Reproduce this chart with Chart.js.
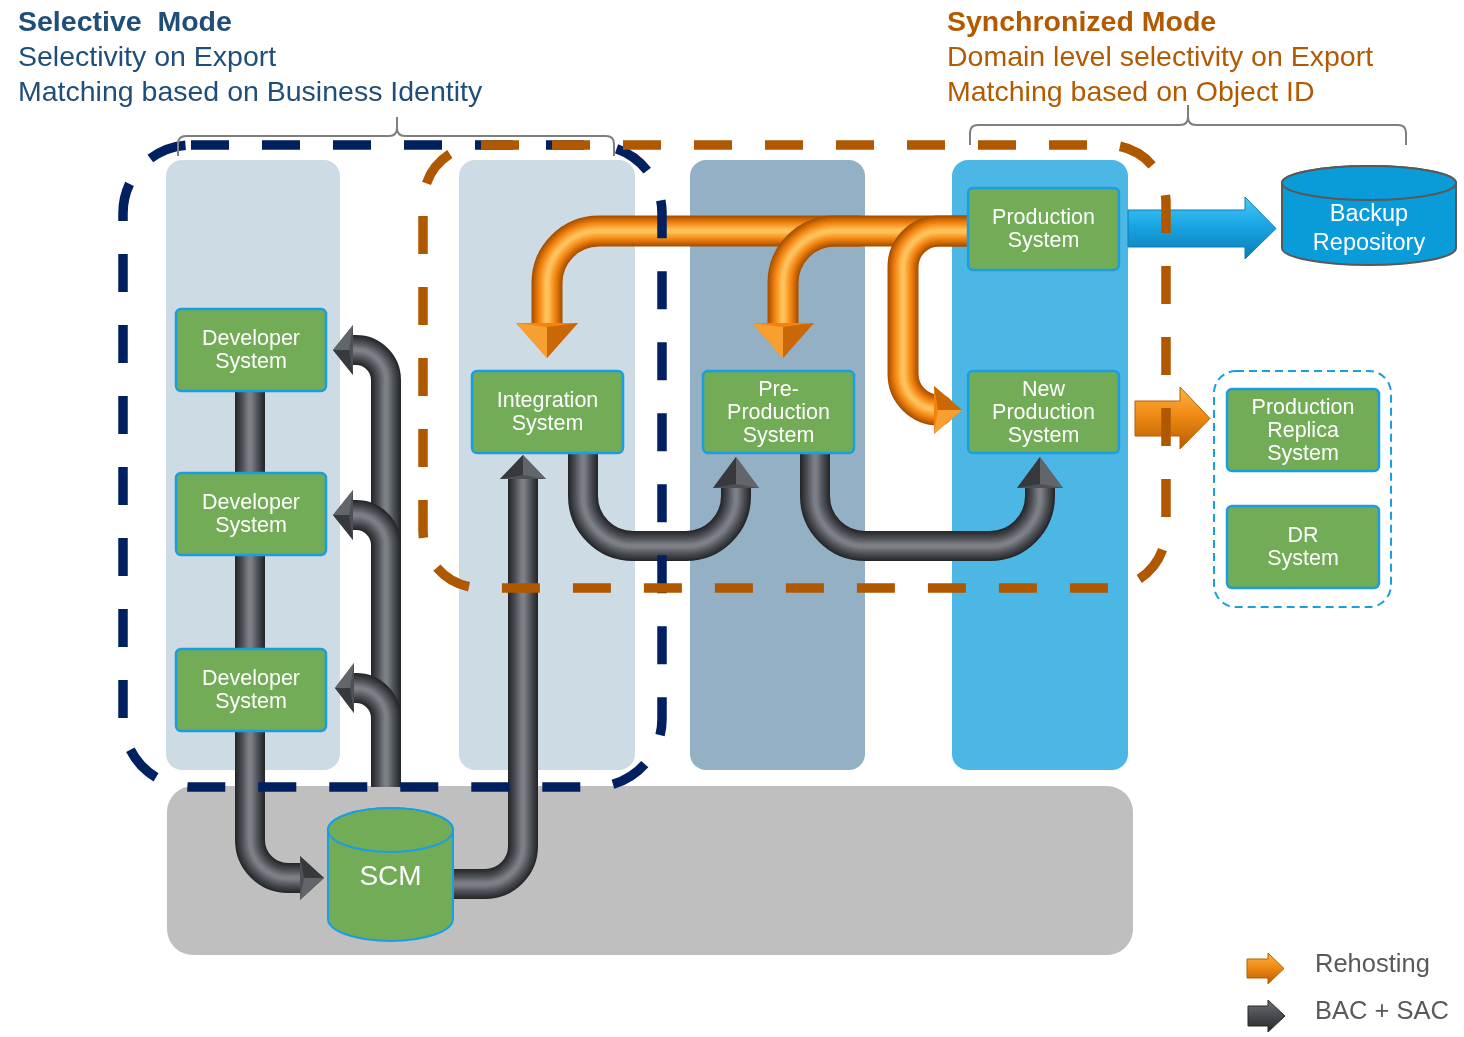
<!DOCTYPE html>
<html><head><meta charset="utf-8">
<script src="https://cdn.jsdelivr.net/npm/chart.js@4"></script>
<style>html,body{margin:0;padding:0;background:#fff}#wrap{width:1464px;height:1037px}</style>
</head><body><div id="wrap"><canvas id="c" width="1464" height="1037"></canvas></div>
<script>
// ---------- DATA (text content) ----------
const titleSelective = ["Selective  Mode", "Selectivity on Export", "Matching based on Business Identity"];
const titleSynchronized = ["Synchronized Mode", "Domain level selectivity on Export", "Matching based on Object ID"];
const nodeLabels = [
  ["Developer", "System"], ["Developer", "System"], ["Developer", "System"],
  ["Integration", "System"], ["Pre-", "Production", "System"],
  ["Production", "System"], ["New", "Production", "System"],
  ["Production", "Replica", "System"], ["DR", "System"]
];
const cylinderLabels = [["SCM"], ["Backup", "Repository"]];
const legendLabels = ["Rehosting", "BAC + SAC"];

// ---------- LAYOUT (axis units; x: 0..1464, y: 0..1037 downward) ----------
const columnRects = [[166,160,174,610],[459,160,176,610],[690,160,175,610],[952,160,176,610]];
const columnFills = ["#cddbe4","#cddbe4","#94b0c4","#4cb7e5"];
const bandRect = [167,786,966,169];
const nodeRects = [
  [176,309,150,82],[176,473,150,82],[176,649,150,82],
  [472,371,151,82],[703,371,151,82],
  [968,188,151,82],[968,371,151,82],
  [1227,389,152,82],[1227,506,152,82]
];
const cylinders = [[328,830,125,89,22],[1282,183,174,65,17]]; // x, topCy, w, bodyH, ry
const grayPipes = [
  {pts:[[250,391],[250,878],[300,878]], r:38, tip:324, hw:22},
  {pts:[[386,787],[386,350],[353,350]], r:30, tip:333, hw:25},
  {pts:[[386,570],[386,515],[353,515]], r:30, tip:333, hw:25},
  {pts:[[386,745],[386,688],[354,688]], r:30, tip:335, hw:25},
  {pts:[[452,884],[523,884],[523,479]], r:38, tip:455, hw:23},
  {pts:[[583,452],[583,546],[736,546],[736,488]], r:50, tip:457, hw:23},
  {pts:[[815,452],[815,546],[1040,546],[1040,488]], r:50, tip:457, hw:23}
];
const orangePipes = [
  {pts:[[968,231],[547,231],[547,323]], r:52, tip:358, hw:31},
  {pts:[[860,231],[783,231],[783,323]], r:52, tip:358, hw:31},
  {pts:[[968,231],[903,231],[903,410],[934,410]], r:36, tip:962, hw:24}
];
const pipeWidth = [30, 31];
const dashedRegions = [
  {rect:[123,145,539,642], r:68, color:"#002060"},
  {rect:[423,145,743,443], r:58, color:"#b05800"}
];
const replicaRegion = [1214,371,177,236];

let chartRef;
function X(v){return chartRef.scales.x.getPixelForValue(v);}
function Y(v){return chartRef.scales.y.getPixelForValue(v);}
function L(v){return X(v)-X(0);}

function rrect(ctx,x,y,w,h,r){ctx.beginPath();ctx.roundRect(X(x),Y(y),L(w),L(h),L(r));}

function polyPath(ctx,pts,r){
  ctx.beginPath();
  ctx.moveTo(X(pts[0][0]),Y(pts[0][1]));
  for(let i=1;i<pts.length-1;i++){
    ctx.arcTo(X(pts[i][0]),Y(pts[i][1]),X(pts[i+1][0]),Y(pts[i+1][1]),L(r));
  }
  const e=pts[pts.length-1]; ctx.lineTo(X(e[0]),Y(e[1]));
}
function hex(c){return [parseInt(c.slice(1,3),16),parseInt(c.slice(3,5),16),parseInt(c.slice(5,7),16)];}
function mix(a,b,t){const A=hex(a),B=hex(b);return 'rgb('+A.map((v,i)=>Math.round(v+(B[i]-v)*t)).join(',')+')';}
function drawPipe(ctx,p,w,pal){
  ctx.save(); ctx.lineCap='butt'; ctx.lineJoin='round';
  const N=12;
  for(let i=0;i<=N;i++){
    const t=i/N, f=1-t*0.88;
    const c=t<0.5?mix(pal[0],pal[1],t/0.5):mix(pal[1],pal[2],(t-0.5)/0.5);
    polyPath(ctx,p.pts,p.r);ctx.lineWidth=L(w*f);ctx.strokeStyle=c;ctx.stroke();
  }
  // arrowhead
  const n=p.pts.length, a=p.pts[n-2], b=p.pts[n-1];
  let dx=b[0]-a[0], dy=b[1]-a[1]; const len=Math.hypot(dx,dy); dx/=len; dy/=len;
  const nx=-dy, ny=dx;
  let tx=b[0],ty=b[1]; if(dx!==0) tx=p.tip; else ty=p.tip;
  const b1=[b[0]+nx*p.hw,b[1]+ny*p.hw], b2=[b[0]-nx*p.hw,b[1]-ny*p.hw];
  const m=[b[0]+dx*4,b[1]+dy*4];
  ctx.beginPath();ctx.moveTo(X(b1[0]),Y(b1[1]));ctx.lineTo(X(tx),Y(ty));ctx.lineTo(X(b2[0]),Y(b2[1]));ctx.closePath();
  ctx.fillStyle=pal[1];ctx.fill();
  ctx.beginPath();ctx.moveTo(X(b1[0]),Y(b1[1]));ctx.lineTo(X(tx),Y(ty));ctx.lineTo(X(m[0]),Y(m[1]));ctx.closePath();
  ctx.fillStyle=mix(pal[1],pal[2],0.45);ctx.fill();
  ctx.beginPath();ctx.moveTo(X(b2[0]),Y(b2[1]));ctx.lineTo(X(tx),Y(ty));ctx.lineTo(X(m[0]),Y(m[1]));ctx.closePath();
  ctx.fillStyle=mix(pal[1],pal[0],0.55);ctx.fill();
  ctx.restore();
}
function blockArrow(ctx,x0,y0,x1,y1,hx,hy0,hy1,tip,cols){
  const cy=(y0+y1)/2;
  const g=ctx.createLinearGradient(0,Y(hy0),0,Y(hy1));
  g.addColorStop(0,cols[0]);g.addColorStop(0.45,cols[1]);g.addColorStop(1,cols[2]);
  ctx.beginPath();
  ctx.moveTo(X(x0),Y(y0));ctx.lineTo(X(hx),Y(y0));ctx.lineTo(X(hx),Y(hy0));ctx.lineTo(X(tip),Y(cy));
  ctx.lineTo(X(hx),Y(hy1));ctx.lineTo(X(hx),Y(y1));ctx.lineTo(X(x0),Y(y1));ctx.closePath();
  ctx.fillStyle=g;ctx.fill();
  ctx.strokeStyle=cols[2];ctx.lineWidth=1;ctx.stroke();
}
function cylinder(ctx,c,fill,stroke,sw){
  const [x,cy,w,h,ry]=c; const cx=X(x+w/2), rx=L(w/2);
  ctx.save();
  ctx.beginPath();
  ctx.moveTo(X(x),Y(cy));ctx.lineTo(X(x),Y(cy+h));
  ctx.ellipse(cx,Y(cy+h),rx,L(ry),0,Math.PI,0,true);
  ctx.lineTo(X(x+w),Y(cy));
  ctx.ellipse(cx,Y(cy),rx,L(ry),0,0,Math.PI,true);
  ctx.closePath();ctx.fillStyle=fill;ctx.fill();ctx.strokeStyle=stroke;ctx.lineWidth=sw;ctx.stroke();
  ctx.beginPath();ctx.ellipse(cx,Y(cy),rx,L(ry),0,0,Math.PI*2);ctx.fillStyle=fill;ctx.fill();ctx.stroke();
  ctx.restore();
}
function brace(ctx,x0,x1,xm,yEnd,yBar,yTip){
  ctx.save();ctx.strokeStyle="#7f7f7f";ctx.lineWidth=2;ctx.beginPath();
  const r=8;
  ctx.moveTo(X(x0),Y(yEnd));ctx.lineTo(X(x0),Y(yBar+r));ctx.quadraticCurveTo(X(x0),Y(yBar),X(x0+r),Y(yBar));
  ctx.lineTo(X(xm-r),Y(yBar));ctx.quadraticCurveTo(X(xm),Y(yBar),X(xm),Y(yBar-r));ctx.lineTo(X(xm),Y(yTip));
  ctx.moveTo(X(xm),Y(yBar-r));ctx.quadraticCurveTo(X(xm),Y(yBar),X(xm+r),Y(yBar));
  ctx.lineTo(X(x1-r),Y(yBar));ctx.quadraticCurveTo(X(x1),Y(yBar),X(x1),Y(yBar+r));ctx.lineTo(X(x1),Y(yEnd));
  ctx.stroke();ctx.restore();
}
const FONT='"Liberation Sans", Arial, sans-serif';
function lines(ctx,arr,cx,cy,lh,size,color,bold){
  ctx.save();ctx.fillStyle=color;ctx.font=(bold?'bold ':'')+size+'px '+FONT;ctx.textAlign='center';ctx.textBaseline='middle';
  const top=cy-(arr.length-1)*lh/2;
  arr.forEach((t,i)=>ctx.fillText(t,X(cx),Y(top+i*lh)));
  ctx.restore();
}

const diagram={
  id:'diagram',
  afterDraw(chart){
    chartRef=chart; const ctx=chart.ctx;
    ctx.save();
    // columns
    columnRects.forEach((r,i)=>{rrect(ctx,r[0],r[1],r[2],r[3],16);ctx.fillStyle=columnFills[i];ctx.fill();});
    rrect(ctx,...bandRect,26);ctx.fillStyle="#bfbfbf";ctx.fill();
    // pipes
    const gray=["#25272a","#4d5055","#7c8086"];
    const orange=["#a85000","#f3830f","#ffc15a"];
    grayPipes.forEach(p=>drawPipe(ctx,p,pipeWidth[0],gray));
    orangePipes.forEach(p=>drawPipe(ctx,p,pipeWidth[1],orange));
    // side arrows
    blockArrow(ctx,1128,210,1247,247,1245,197,259,1276,["#49c8f5","#1aa6e4","#0b7cb5"]);
    blockArrow(ctx,1135,401,1182,436,1180,387,449,1210,["#ffb347","#f08a14","#b75e00"]);
    // nodes
    nodeRects.forEach((r,i)=>{
      rrect(ctx,r[0],r[1],r[2],r[3],5);ctx.fillStyle="#72ac56";ctx.fill();
      ctx.strokeStyle="#1b9ee0";ctx.lineWidth=L(2.5);ctx.stroke();
    });
    cylinder(ctx,cylinders[0],"#72ac56","#1b9ee0",L(2));
    cylinder(ctx,cylinders[1],"#0a9bd9","#595959",L(2));
    // dashed regions
    ctx.lineCap='butt';
    dashedRegions.forEach(d=>{
      const [x,y,w,h]=d.rect; rrect(ctx,x,y,w,h,d.r);
      ctx.setLineDash([L(38),L(33)]);ctx.lineWidth=L(9.5);ctx.strokeStyle=d.color;ctx.stroke();
    });
    rrect(ctx,...replicaRegion,22);ctx.setLineDash([L(8),L(5)]);ctx.lineWidth=L(2);ctx.strokeStyle="#1b9ee0";ctx.stroke();
    ctx.setLineDash([]);
    // node texts
    nodeRects.forEach((r,i)=>lines(ctx,nodeLabels[i],r[0]+r[2]/2,r[1]+r[3]/2+1,23,21.5,"#ffffff",false));
    lines(ctx,cylinderLabels[0],390.5,877,28,28,"#ffffff",false);
    lines(ctx,cylinderLabels[1],1369,229,29,23.5,"#ffffff",false);
    // braces
    brace(ctx,178,614,397,156,136,117);
    brace(ctx,970,1406,1188,145,125,105);
    // titles
    ctx.textAlign='left';ctx.textBaseline='middle';
    const tl=[titleSelective,titleSynchronized], tx=[18,947], tc=["#1f4e79","#b35a00"];
    tl.forEach((arr,k)=>arr.forEach((t,i)=>{
      ctx.font=(i===0?'bold ':'')+'28.5px '+FONT;ctx.fillStyle=tc[k];
      ctx.fillText(t,X(tx[k]),Y(23+i*35));
    }));
    // legend
    blockArrow(ctx,1247,959,1270,978,1268,953,984,1284,["#ffb347","#f08a14","#b75e00"]);
    blockArrow(ctx,1248,1006,1270,1026,1268,1000,1032,1285,["#6d7176","#4a4d52","#26282b"]);
    ctx.font='25.5px '+FONT;ctx.fillStyle="#595959";
    legendLabels.forEach((t,i)=>ctx.fillText(t,X(1315),Y(965+i*47)));
    ctx.restore();
  }
};

new Chart(document.getElementById('c'),{
  type:'scatter',
  data:{datasets:[{data:nodeRects.map(r=>({x:r[0]+r[2]/2,y:r[1]+r[3]/2})),pointRadius:0}]},
  options:{
    responsive:false,animation:false,events:[],
    layout:{padding:0},
    plugins:{legend:{display:false},tooltip:{enabled:false}},
    scales:{
      x:{type:'linear',min:0,max:1464,display:false},
      y:{type:'linear',min:0,max:1037,reverse:true,display:false}
    }
  },
  plugins:[diagram]
});
</script></body></html>
